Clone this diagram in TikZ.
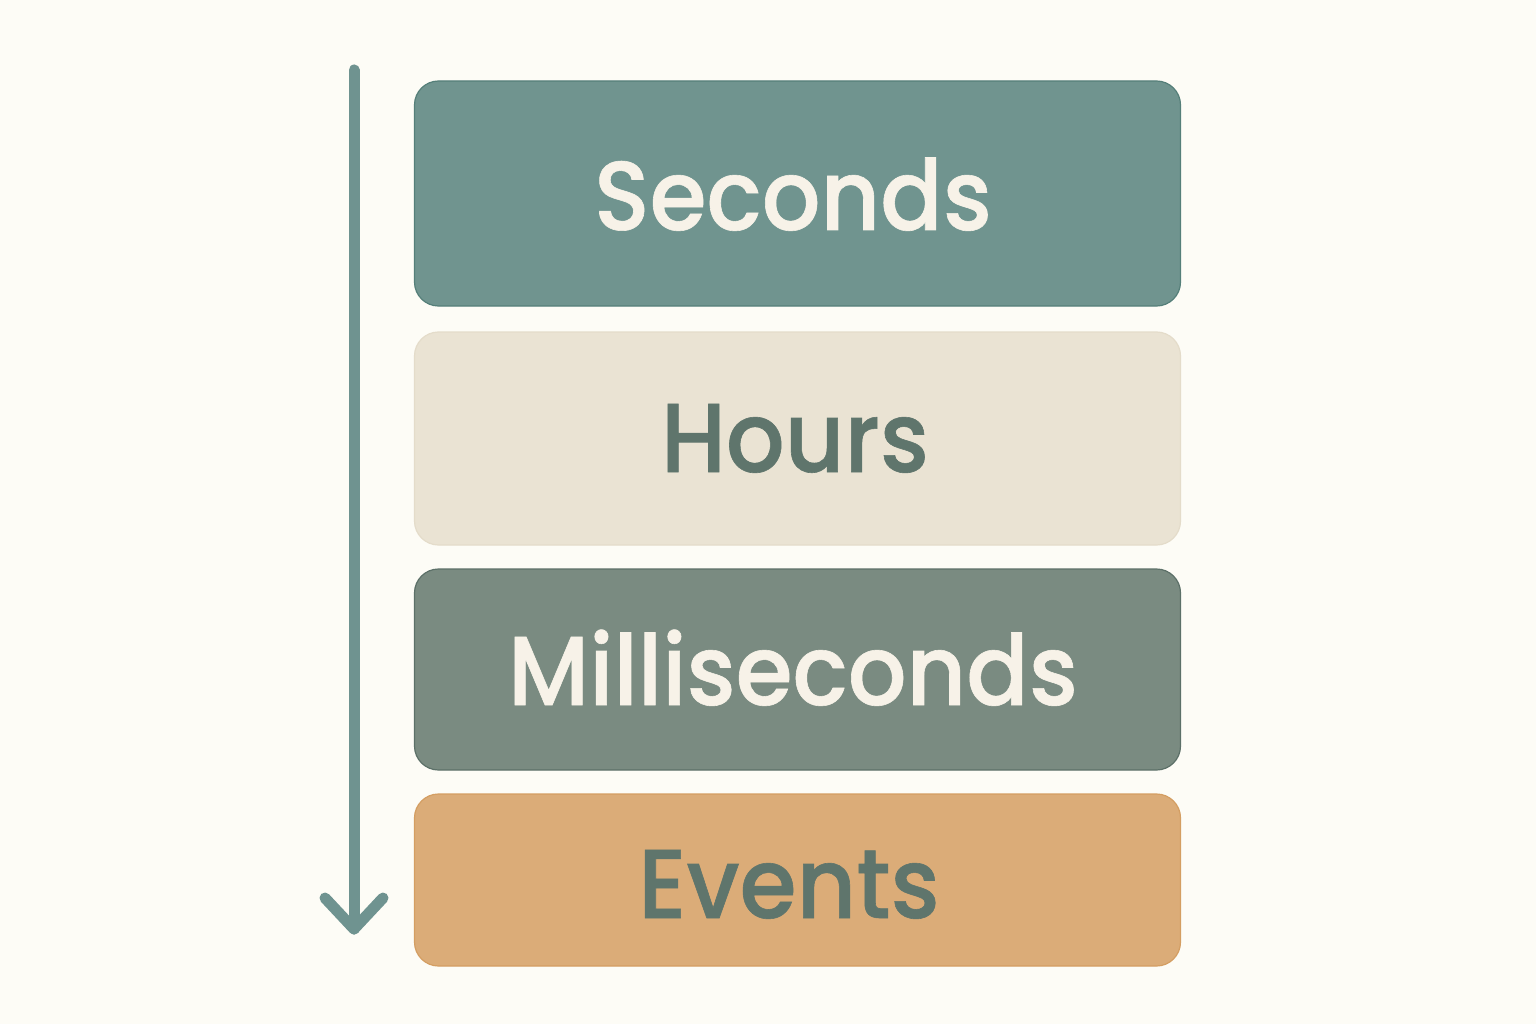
\documentclass[tikz,border=0pt]{standalone}
\usepackage{fontspec}
\newfontfamily\labfont{Poppins Medium}[FakeStretch=0.94, FakeBold=0.6]
\definecolor{bg}{HTML}{FDFCF6}
\definecolor{tealc}{HTML}{70948F}
\definecolor{tealb}{HTML}{557F79}
\definecolor{creamc}{HTML}{EAE3D3}
\definecolor{creamb}{HTML}{E4DCCA}
\definecolor{sagec}{HTML}{7A8B81}
\definecolor{sageb}{HTML}{5C7068}
\definecolor{orangec}{HTML}{DBAC78}
\definecolor{orangeb}{HTML}{D49E62}
\definecolor{lighttxt}{HTML}{F7F2E8}
\definecolor{darktxt}{HTML}{5F756C}
\definecolor{arrowc}{HTML}{6F9390}
\tikzset{
  band/.style={rounded corners=24pt, line width=1.2pt},
  lbl/.style={anchor=base, inner sep=0pt, font=\labfont\fontsize{98}{98}\selectfont},
}
\begin{document}
\begin{tikzpicture}[x=1pt,y=-1pt]
\fill[bg] (0,0) rectangle (1536,1024);
\useasboundingbox (0,0) rectangle (1536,1024);
\draw[band, fill=tealc, draw=tealb] (414.5,81) rectangle (1180.5,306);
\draw[band, fill=creamc, draw=creamb] (414.5,332) rectangle (1180.5,545);
\draw[band, fill=sagec, draw=sageb] (414.5,569) rectangle (1180.5,770);
\draw[band, fill=orangec, draw=orangeb] (414.5,794) rectangle (1180.5,966);
\node[lbl, text=lighttxt] (s) at (793,230) {Seconds};
\node[lbl, text=darktxt] (h) at (795,472) {Hours};
\node[lbl, text=lighttxt] (m) at (793,705) {Milliseconds};
\node[lbl, text=darktxt] (e) at (789,918) {Events};
\coordinate (top) at (354,70);
\coordinate (tip) at (354,929);
\coordinate (la) at (325,898);
\coordinate (ra) at (383,898);
\draw[arrowc, line width=11pt, line cap=round] (top) -- (tip);
\draw[arrowc, line width=11pt, line cap=round, line join=round] (la) -- (tip) -- (ra);
\end{tikzpicture}
\end{document}
